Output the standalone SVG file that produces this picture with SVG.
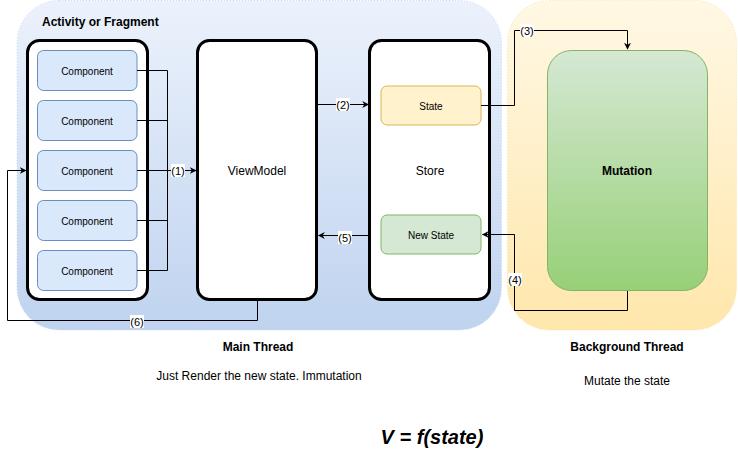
<svg xmlns="http://www.w3.org/2000/svg" width="738" height="451" viewBox="0 0 738 451">
<defs>
<linearGradient id="gBlue" x1="0" y1="0" x2="0" y2="1"><stop offset="0" stop-color="#ecf2fc"/><stop offset="1" stop-color="#bfd3ef"/></linearGradient>
<linearGradient id="gYellow" x1="0" y1="0" x2="0" y2="1"><stop offset="0" stop-color="#fff8e4"/><stop offset="1" stop-color="#ffe7ac"/></linearGradient>
<linearGradient id="gGreen" x1="0" y1="0" x2="0" y2="1"><stop offset="0" stop-color="#d5e8d4"/><stop offset="1" stop-color="#97d077"/></linearGradient>
<marker id="arr" viewBox="0 0 10 10" refX="9" refY="5" markerWidth="7" markerHeight="7" markerUnits="userSpaceOnUse" orient="auto"><path d="M0,0 L10,5 L0,10 L3,5 Z" fill="#000"/></marker>
</defs>
<style>
text{font-family:"Liberation Sans",Arial,sans-serif;fill:#000}
.panel{fill:#fff;stroke:#000;stroke-width:3}
.comp{fill:#dae8fc;stroke:#6c8ebf;stroke-width:1}
.t10{font-size:10px;text-anchor:middle}
.t11{font-size:11px;text-anchor:middle}
.t12{font-size:12px;text-anchor:middle}
.b{font-weight:bold}
.edge{fill:none;stroke:#000;stroke-width:1}
.lbg{fill:#fff}
</style>

<g id="main-thread">
<rect x="17" y="0.5" width="484.5" height="329.5" rx="42" fill="url(#gBlue)" stroke="#c9d9f2" stroke-dasharray="1 2"/>
<text x="42" y="26" class="b" style="font-size:12px">Activity or Fragment</text>
</g>
<g id="background-thread">
<rect x="507.5" y="0.5" width="229" height="329.5" rx="42" fill="url(#gYellow)" stroke="#f6e3a8" stroke-dasharray="1 2"/>
</g>

<g id="activity">
<rect class="panel" x="27.5" y="40.5" width="120" height="259" rx="12"/>
</g>
<g id="component-1"><rect class="comp" x="37.5" y="50.5" width="99.5" height="40" rx="6"/><text x="87" y="74.5" class="t10">Component</text></g>
<g id="component-2"><rect class="comp" x="37.5" y="100.5" width="99.5" height="40" rx="6"/><text x="87" y="124.5" class="t10">Component</text></g>
<g id="component-3"><rect class="comp" x="37.5" y="150.5" width="99.5" height="40" rx="6"/><text x="87" y="174.5" class="t10">Component</text></g>
<g id="component-4"><rect class="comp" x="37.5" y="200.5" width="99.5" height="40" rx="6"/><text x="87" y="224.5" class="t10">Component</text></g>
<g id="component-5"><rect class="comp" x="37.5" y="250.5" width="99.5" height="40" rx="6"/><text x="87" y="274.5" class="t10">Component</text></g>

<g id="viewmodel">
<rect class="panel" x="197.5" y="40.5" width="119" height="259" rx="12"/>
<text x="257" y="175" class="t12">ViewModel</text>
</g>

<g id="store">
<rect class="panel" x="369.5" y="40.5" width="120" height="259" rx="12"/>
<text x="430" y="175" class="t12">Store</text>
</g>
<g id="state"><rect x="381" y="86" width="100" height="39" rx="6" fill="#fff2cc" stroke="#d6b656"/><text x="431" y="110" class="t10">State</text></g>
<g id="new-state"><rect x="381" y="215" width="100" height="39" rx="6" fill="#d5e8d4" stroke="#82b366"/><text x="431" y="239" class="t10">New State</text></g>

<g id="mutation">
<rect x="547.5" y="50.5" width="160" height="240" rx="24" fill="url(#gGreen)" stroke="#82b366"/>
<text x="627" y="175" class="t12 b">Mutation</text>
</g>

<g id="connectors">
<path class="edge" d="M137,70.5 H167.5 V270.5 H137 M137,120.5 H167.5 M137,220.5 H167.5"/>
<path class="edge" d="M137,170.5 H196" marker-end="url(#arr)"/>
<path class="edge" d="M317,104.5 H368.5" marker-end="url(#arr)"/>
<path class="edge" d="M481,105.5 H514.5 V30.5 H627.5 V49" marker-end="url(#arr)"/>
<path class="edge" d="M627.5,291 V310.5 H514.5 V234.5 H482.5" marker-end="url(#arr)"/>
<path class="edge" d="M368,235.5 H318.5" marker-end="url(#arr)"/>
<path class="edge" d="M257.5,300 V320.5 H7.5 V170.5 H26" marker-end="url(#arr)"/>
<rect class="lbg" x="171" y="164" width="14" height="13"/><text x="178" y="174.5" class="t11">(1)</text>
<rect class="lbg" x="336" y="98" width="14" height="13"/><text x="343" y="108.5" class="t11">(2)</text>
<rect class="lbg" x="520" y="24" width="14" height="13"/><text x="527" y="34.5" class="t11">(3)</text>
<rect class="lbg" x="508" y="273" width="14" height="13"/><text x="515" y="284" class="t11">(4)</text>
<rect class="lbg" x="338" y="231" width="14" height="13"/><text x="345" y="242" class="t11">(5)</text>
<rect class="lbg" x="130" y="315" width="14" height="13"/><text x="137" y="325.5" class="t11">(6)</text>
</g>

<g id="captions">
<text x="258" y="351" class="t12 b">Main Thread</text>
<text x="627" y="351" class="t12 b">Background Thread</text>
<text x="259" y="380" class="t12">Just Render the new state. Immutation</text>
<text x="627" y="385" class="t12">Mutate the state</text>
<text x="432" y="444" style="font-size:20px;font-weight:bold;font-style:italic;text-anchor:middle">V = f(state)</text>
</g>
</svg>
